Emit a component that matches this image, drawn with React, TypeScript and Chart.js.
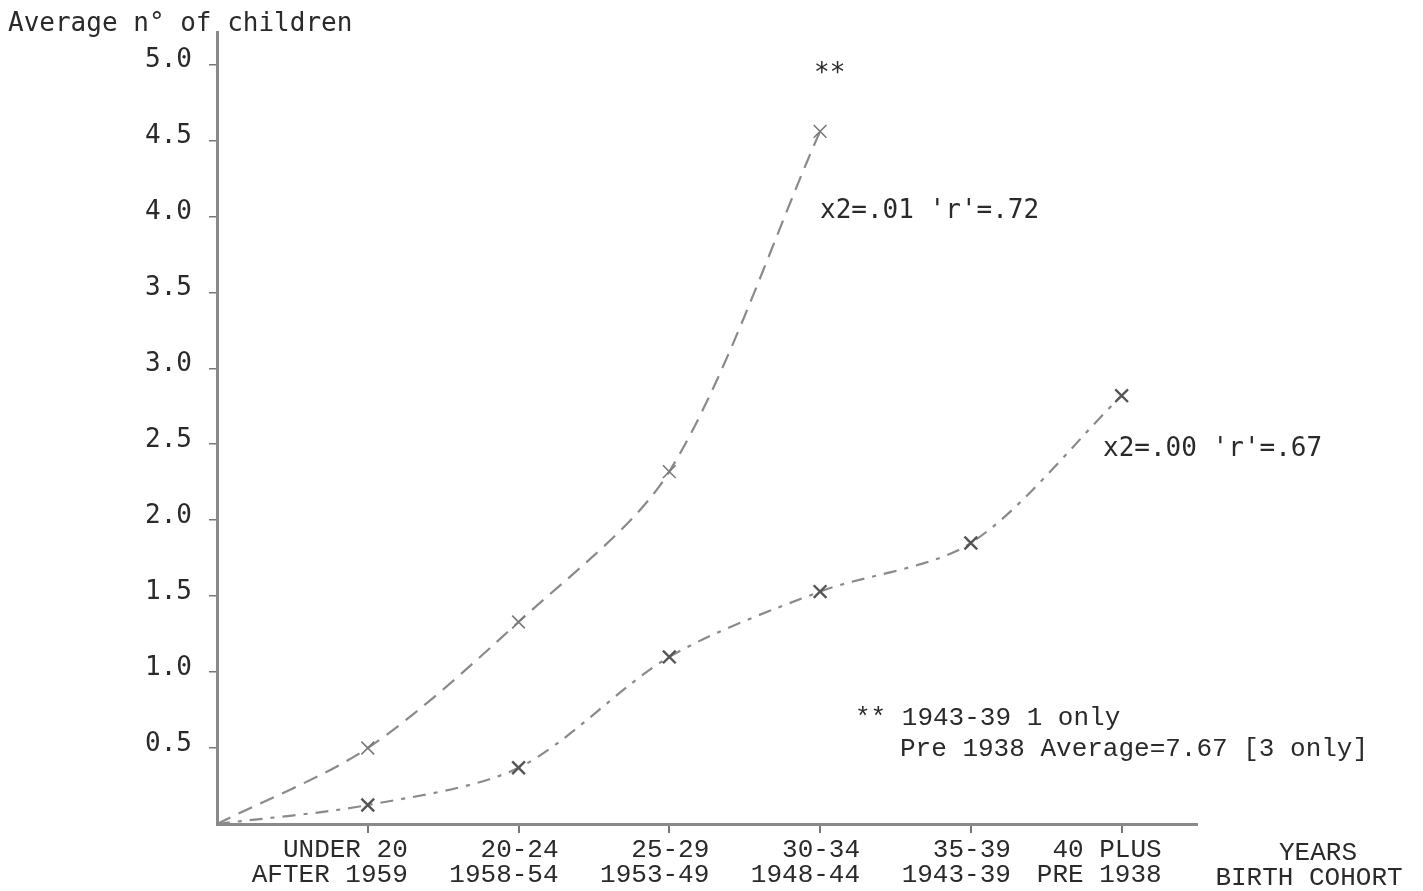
import { useEffect, useRef } from "react";
import { Chart, registerables } from "chart.js";

Chart.register(...registerables);

// Age group positions on the x axis (0 = origin)
const groupPositions = [0, 1, 2, 3, 4, 5, 6];
// Tick labels for groups 1..6 (age group / birth cohort)
const ageGroupLabels = ["UNDER 20", "20-24", "25-29", "30-34", "35-39", "40 PLUS"];
const cohortLabels = ["AFTER 1959", "1958-54", "1953-49", "1948-44", "1943-39", "PRE 1938"];
// Average number of children
const upperSeries = [0, 0.5, 1.33, 2.32, 4.56];
const lowerSeries = [0, 0.125, 0.37, 1.1, 1.53, 1.85, 2.82];
const yTickValues = [0.5, 1.0, 1.5, 2.0, 2.5, 3.0, 3.5, 4.0, 4.5, 5.0];
const xTickValues = [1, 2, 3, 4, 5, 6];

const W = 1423;
const H = 891;
const MONO = "'DejaVu Sans Mono', 'Liberation Mono', monospace";
const MONO2 = "'Liberation Mono', 'DejaVu Sans Mono', monospace";
const INK = "#2a2a2a";

const textPlugin = {
  id: "annotText",
  afterDraw(chart: any) {
    const ctx = chart.ctx;
    ctx.save();
    ctx.fillStyle = INK;
    ctx.textBaseline = "middle";
    ctx.textAlign = "left";
    ctx.font = `26px ${MONO}`;
    ctx.fillText("Average n\u00B0 of children", 8, 24);
    ctx.fillText("**", 814, 74);
    ctx.fillText("x2=.01 'r'=.72", 820, 211);
    ctx.fillText("x2=.00 'r'=.67", 1103, 449);
    ctx.font = `26px ${MONO2}`;
    ctx.fillText("** 1943-39 1 only", 855, 718);
    ctx.fillText("Pre 1938 Average=7.67 [3 only]", 900, 749);
    ctx.textAlign = "center";
    ctx.fillText("YEARS", 1318, 853);
    ctx.fillText("BIRTH COHORT", 1309, 878);
    ctx.restore();
  },
};

export default function App() {
  const ref = useRef<HTMLCanvasElement | null>(null);

  useEffect(() => {
    if (!ref.current) return;
    const chart = new Chart(ref.current, {
      type: "line",
      data: {
        datasets: [
          {
            data: upperSeries.map((v, i) => ({ x: groupPositions[i], y: v })),
            borderColor: "#8a8a8a",
            borderWidth: 2.2,
            borderDash: [15, 9],
            tension: 0.3,
            pointStyle: "crossRot",
            pointRadius: upperSeries.map((_, i) => (i === 0 ? 0 : 9)),
            pointBorderColor: "#7a7a7a",
            pointBorderWidth: 1.6,
            fill: false,
          },
          {
            data: lowerSeries.map((v, i) => ({ x: groupPositions[i], y: v })),
            borderColor: "#8a8a8a",
            borderWidth: 2.2,
            borderDash: [13, 8, 4, 8],
            tension: 0.3,
            pointStyle: "crossRot",
            pointRadius: lowerSeries.map((_, i) => (i === 0 ? 0 : 9)),
            pointBorderColor: "#555",
            pointBorderWidth: 2.4,
            fill: false,
          },
        ],
      },
      options: {
        responsive: false,
        animation: false,
        layout: { padding: { top: 32, right: W - 1197, left: 0, bottom: 0 } },
        plugins: {
          legend: { display: false },
          tooltip: { enabled: false },
          title: { display: false },
        },
        scales: {
          x: {
            type: "linear",
            min: 0,
            max: 6.5,
            afterFit: (s: any) => {
              s.height = H - 824;
            },
            afterBuildTicks: (s: any) => {
              s.ticks = xTickValues.map((v) => ({ value: v }));
            },
            border: { color: "#8a8a8a", width: 3 },
            grid: { drawOnChartArea: false, tickLength: 9, color: "#777", lineWidth: 2 },
            ticks: {
              align: "end",
              labelOffset: 40,
              padding: 4,
              maxRotation: 0,
              autoSkip: false,
              color: INK,
              font: { family: MONO2, size: 26, lineHeight: 0.97 },
              callback: (v: any) => {
                const i = xTickValues.indexOf(Number(v));
                return i >= 0 ? [ageGroupLabels[i], cohortLabels[i]] : "";
              },
            },
          },
          y: {
            type: "linear",
            min: 0,
            max: 5.21,
            afterFit: (s: any) => {
              s.width = 217;
            },
            afterBuildTicks: (s: any) => {
              s.ticks = yTickValues.map((v) => ({ value: v }));
            },
            border: { color: "#8a8a8a", width: 3 },
            grid: { drawOnChartArea: false, tickLength: 8, color: "#777", lineWidth: 1.5 },
            ticks: {
              padding: 17,
              labelOffset: -4,
              color: INK,
              font: { family: MONO, size: 26 },
              callback: (v: any) => Number(v).toFixed(1),
            },
          },
        },
      },
      plugins: [textPlugin],
    } as any);
    return () => chart.destroy();
  }, []);

  return (
    <div style={{ position: "absolute", left: 0, top: 0, width: W, height: H, background: "#fff" }}>
      <canvas ref={ref} width={W} height={H} style={{ display: "block" }} />
    </div>
  );
}
